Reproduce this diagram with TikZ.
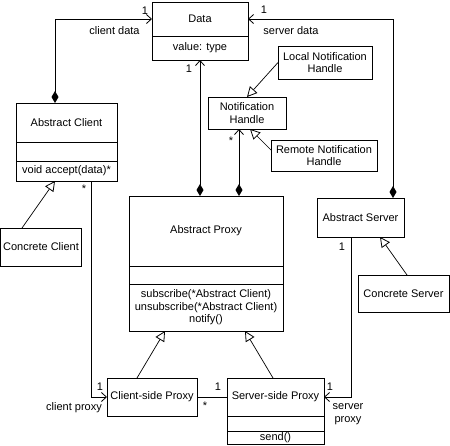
\documentclass[tikz,border=0pt]{standalone}
\usepackage{fontspec}
\setmainfont{Liberation Sans}
\usetikzlibrary{arrows.meta}
\begin{document}
\begin{tikzpicture}[x=1pt,y=-1pt,
  every node/.style={font=\fontsize{11}{12.5}\selectfont},
  box/.style={draw,line width=0.8pt,inner sep=0pt,outer sep=0pt,align=center,fill=white},
  lbl/.style={inner sep=0pt},
  assoc/.style={line width=1pt},
  compo/.style={line width=1pt,{Diamond[length=12pt,width=7pt]}-{Straight Barb[length=5pt,width=9pt,line width=0.8pt]}},
  navi/.style={line width=1pt,-{Straight Barb[length=5pt,width=9pt,line width=0.8pt]}},
  gen/.style={line width=0.7pt,-{Triangle[open,length=10pt,width=10pt,line width=0.8pt]}}]
\useasboundingbox (0,0) rectangle (450,445);
% Data
\node[box,minimum width=96,minimum height=34] (data-name) at (200,19) {Data};
\node[box,minimum width=96,minimum height=24] (data-attr) at (200,48) {value: type};
% Notification handles
\node[box,minimum width=78,minimum height=32] (nh) at (247,113) {Notification\\Handle};
\node[box,minimum width=94,minimum height=33] (lnh) at (325,62.5) {Local Notification\\Handle};
\node[box,minimum width=106,minimum height=31] (rnh) at (324,155.5) {Remote Notification\\Handle};
% Abstract Client
\node[box,minimum width=101,minimum height=39] (ac-name) at (66.5,122.5) {Abstract Client};
\node[box,minimum width=101,minimum height=19] (ac-attr) at (66.5,151.5) {};
\node[box,minimum width=101,minimum height=20] (ac-ops) at (66.5,171) {void accept(data)*};
\node[box,minimum width=81,minimum height=38] (cc) at (41,247) {Concrete Client};
% Abstract Proxy
\node[box,minimum width=154,minimum height=70] (ap-name) at (206,231) {Abstract Proxy};
\node[box,minimum width=154,minimum height=18] (ap-attr) at (206,275) {};
\node[box,minimum width=154,minimum height=47] (ap-ops) at (206,307.5) {subscribe(*Abstract Client)\\unsubscribe(*Abstract Client)\\notify()};
% Abstract Server
\node[box,minimum width=87,minimum height=39] (as) at (360.5,217.5) {Abstract Server};
\node[box,minimum width=91,minimum height=37] (cs) at (403.5,293.5) {Concrete Server};
% Proxies
\node[box,minimum width=90,minimum height=38] (csp) at (152,397) {Client-side Proxy};
\node[box,minimum width=97,minimum height=38] (ssp-name) at (275.5,397) {Server-side Proxy};
\node[box,minimum width=97,minimum height=15] (ssp-attr) at (275.5,423.5) {};
\node[box,minimum width=97,minimum height=13] (ssp-ops) at (275.5,437.5) {send()};
% associations
\draw[compo] ([xshift=-11.5]ac-name.north) |- (data-name.west);
\draw[compo] ([xshift=32.5]as.north) |- (data-name.east);
\draw[compo] ([xshift=-6]ap-name.north) -- (data-attr.south);
\draw[compo] ([xshift=33]ap-name.north) -- ([xshift=-8]nh.south);
\draw[navi] ([xshift=24.5]ac-ops.south) |- (csp.west);
\draw[navi] ([xshift=-9.5]as.south) |- (ssp-name.east);
\draw[assoc] (csp.east) -- (ssp-name.west);
% generalizations
\draw[gen] (lnh.west) -- (nh.north);
\draw[gen] ([yshift=5.5]rnh.west) -- ([xshift=3]nh.south);
\draw[gen] ([xshift=-19]cc.north) -- ([xshift=-11.5]ac-ops.south);
\draw[gen] ([xshift=3.5]cs.north) -- ([xshift=19.5]as.south);
\draw[gen] ([xshift=-15]csp.north) -- ([xshift=-41]ap-ops.south);
\draw[gen] ([xshift=-2.5]ssp-name.north) -- ([xshift=39]ap-ops.south);
% labels
\node[lbl] (l1) at (145,11) {1};
\node[lbl] (l2) at (114.5,31) {client data};
\node[lbl] (l3) at (264,10) {1};
\node[lbl] (l4) at (291,31) {server data};
\node[lbl] (l5) at (189,69) {1};
\node[lbl] (l6) at (231,141) {*};
\node[lbl] (l7) at (84,189) {*};
\node[lbl] (l8) at (100,387) {1};
\node[lbl] (l9) at (74,408) {client proxy};
\node[lbl] (l10) at (218,387) {1};
\node[lbl] (l11) at (205,406) {*};
\node[lbl] (l12) at (342,247) {1};
\node[lbl] (l13) at (330,387) {1};
\node[lbl,align=center] (l14) at (348,414) {server\\proxy};
\end{tikzpicture}
\end{document}
